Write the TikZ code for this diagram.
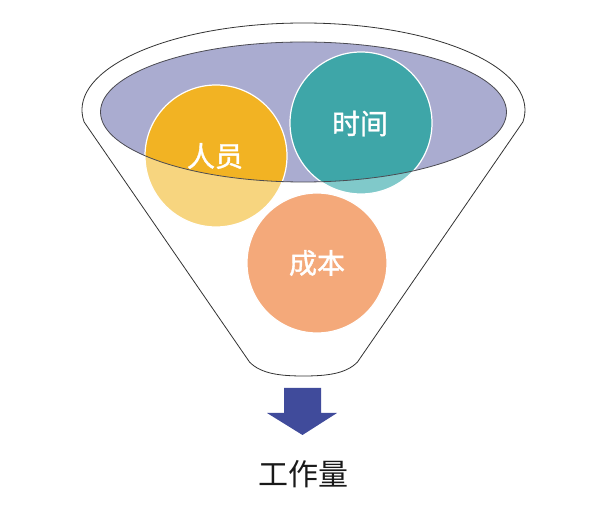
\documentclass[tikz,border=0pt]{standalone}
\usepackage{fontspec}
\newfontfamily\cjk{Noto Sans CJK SC}
\newfontfamily\cjkb[FakeBold=1.3]{Noto Sans CJK SC}
\definecolor{lav}{HTML}{AAACD0}
\definecolor{yelS}{HTML}{F2B323}
\definecolor{yelL}{HTML}{F7D57F}
\definecolor{tealS}{HTML}{3EA6A8}
\definecolor{tealL}{HTML}{80C9CA}
\definecolor{salm}{HTML}{F4A97A}
\definecolor{navy}{HTML}{404B9B}
\definecolor{outl}{HTML}{333333}
\tikzset{
  circlabel/.style={text=white, font=\cjkb\fontsize{28}{30}\selectfont},
  funnelline/.style={draw=outl, line width=0.8pt},
}
\begin{document}
\begin{tikzpicture}[x=1pt,y=1pt]
\useasboundingbox (0,0) rectangle (606,511);
% outer funnel
\draw[funnelline, fill=white]
  ([shift={(303.5,401)}]187.9:221.5 and 87)
  arc[start angle=187.9, end angle=-7.9, x radius=221.5, y radius=87]
  -- (357.5,149)
  .. controls (346,137) and (326,135) .. (303.5,135)
  .. controls (281,135) and (261,137) .. (249.5,149)
  -- cycle;
% inner ellipse fill
\fill[lav] (303.5,399) ellipse[x radius=203, y radius=70];
% circles, light colours
\fill[yelL] (216,355) circle[radius=71];
\fill[tealL] (361,388) circle[radius=71];
\fill[salm] (317,248) circle[radius=70];
% saturated parts inside ellipse
\begin{scope}
  \clip (303.5,399) ellipse[x radius=203, y radius=70];
  \fill[yelS] (216,355) circle[radius=71];
  \fill[tealS] (361,388) circle[radius=71];
\end{scope}
% white borders
\draw[white, line width=1.2pt] (216,355) circle[radius=71];
\draw[white, line width=1.2pt] (361,388) circle[radius=71];
\draw[white, line width=1.2pt] (317,248) circle[radius=70];
% ellipse outline
\draw[draw=outl!80!lav, line width=0.8pt] (303.5,399) ellipse[x radius=203, y radius=70];
% labels
\node[circlabel] (ry) at (215,355) {人员};
\node[circlabel] (sj) at (360,387.5) {时间};
\node[circlabel] (cb) at (317,248) {成本};
% arrow
\fill[navy] (284,123) -- (321,123) -- (321,98) -- (337,98) -- (302.5,76)
  -- (267,98) -- (284,98) -- cycle;
% result
\node[text=black!90, font=\cjk\fontsize{30}{32}\selectfont] (gzl) at (303,37) {工作量};
\end{tikzpicture}
\end{document}
